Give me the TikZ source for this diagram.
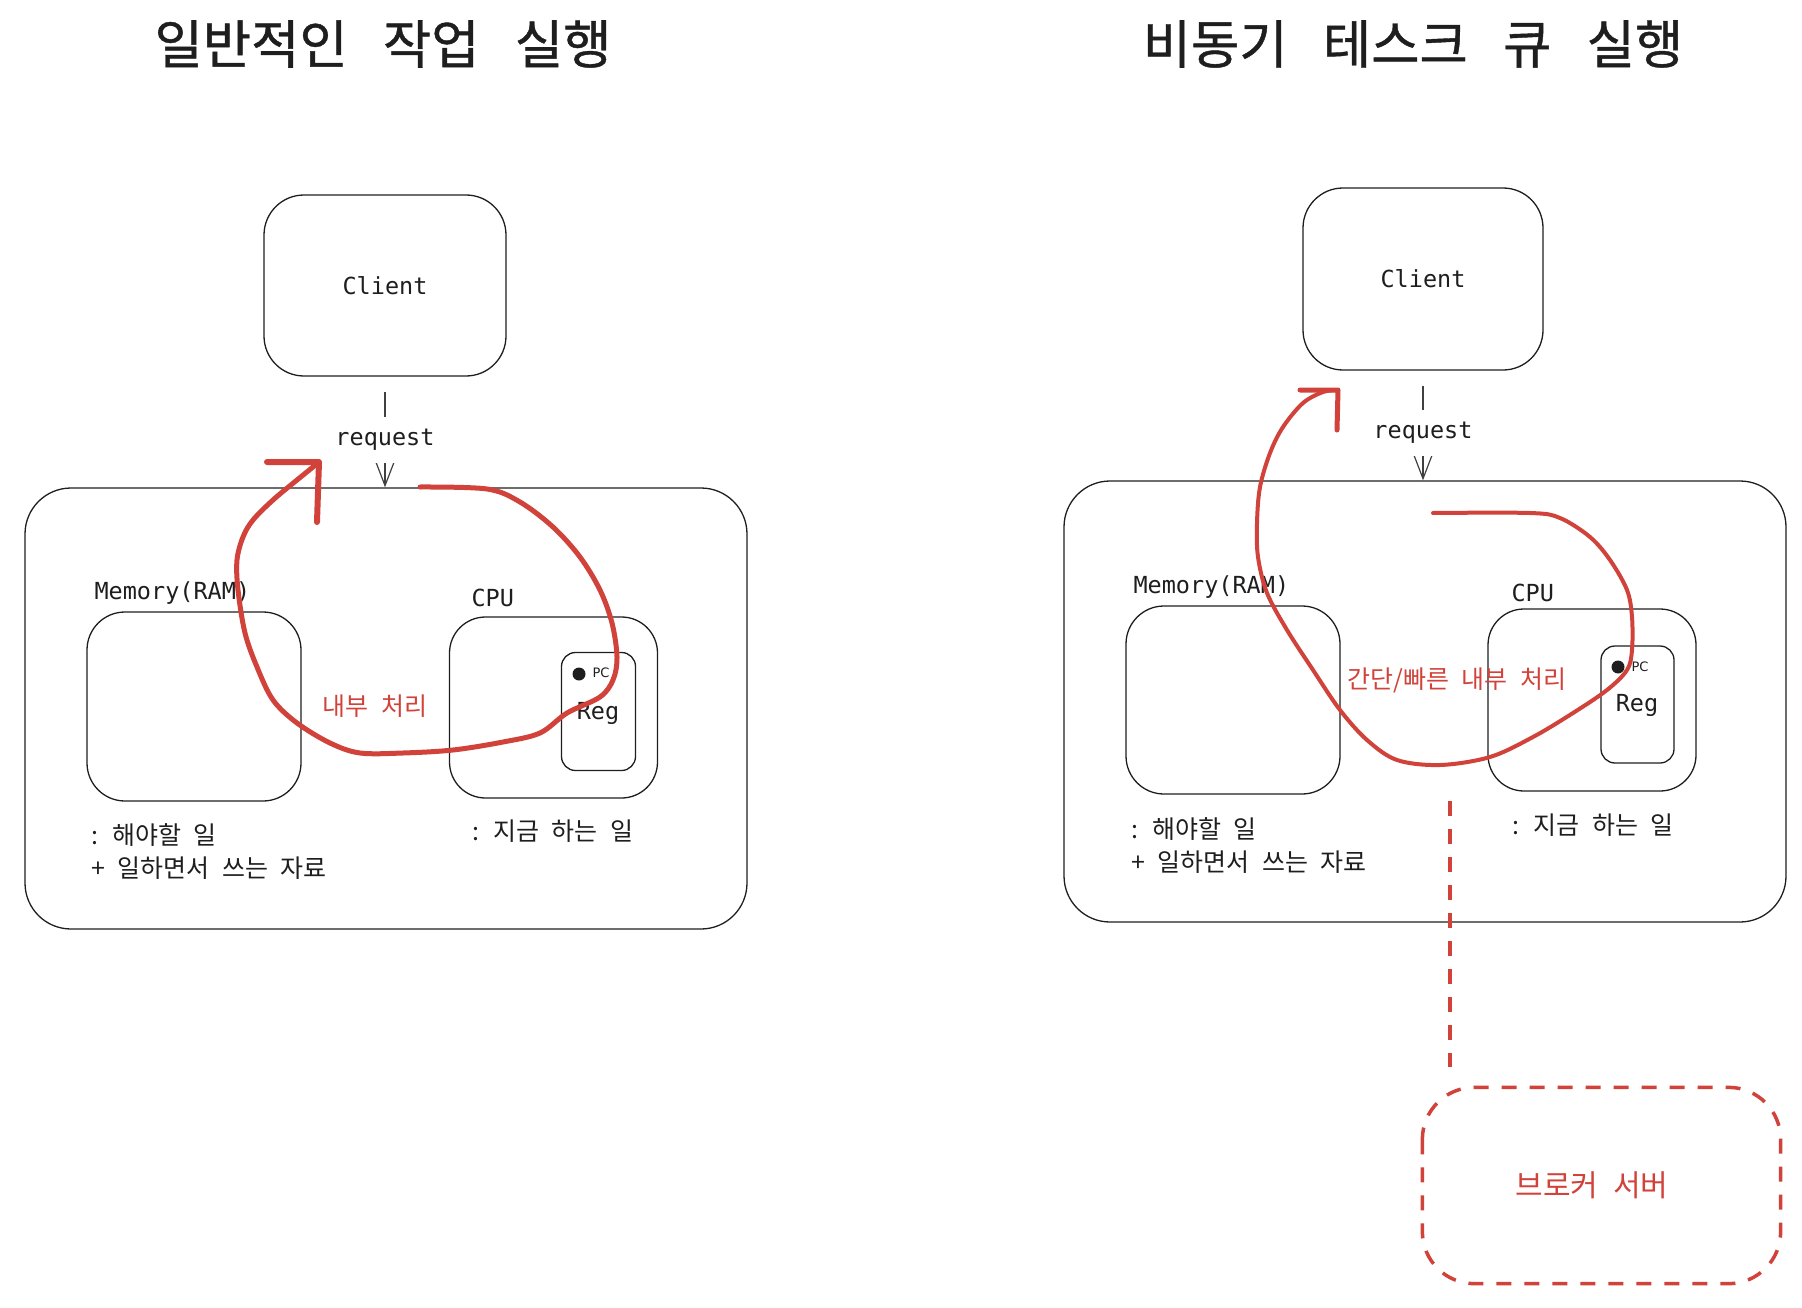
\documentclass[tikz,border=0pt]{standalone}
\usepackage{fontspec}
\setmainfont{Noto Sans CJK KR}[WordSpace=2.2]
\newfontfamily\titlefont{Noto Sans CJK KR}[WordSpace=3,FakeBold=0.8]
\newfontfamily\handfont{DejaVu Sans Mono}
\newfontfamily\pcfont{DejaVu Sans}
\usetikzlibrary{arrows.meta}
\definecolor{redink}{RGB}{208,66,58}
\definecolor{ink}{RGB}{30,30,30}

\begin{document}
\begin{tikzpicture}[x=1pt,y=-1pt,
	rbox/.style={draw=ink, line width=1.3pt, rounded corners=#1, inner sep=0pt},
	rbox/.default=40pt,
	hand/.style={font=\handfont\fontsize{23.5}{27}\selectfont, text=ink},
	kr/.style={font=\fontsize{25}{33}\selectfont, text=ink},
	head/.style={font=\titlefont\fontsize{52.5}{62}\selectfont, text=ink},
	req/.style={draw=ink!85, line width=1.2pt, shorten <=15pt,
		-{Straight Barb[length=26pt,width=20pt,line width=1.2pt]}},
	scribble/.style={draw=redink, line width=#1, line cap=round, line join=round},
	reddash/.style={draw=redink, line width=3.5pt, dash pattern=on 15pt off 13pt}]
	\useasboundingbox (0,0) rectangle (1802,1308);

	% 일반적인 작업 실행
	\node[head] (title1) at (383,44) {일반적인 작업 실행};
	\node[rbox, minimum width=242pt, minimum height=181pt, hand] (client1) at (385,285.5) {Client};
	\node[rbox=46pt, minimum width=722pt, minimum height=441pt] (outer1) at (386,708.5) {};
	\node[rbox=38pt, minimum width=214pt, minimum height=189pt] (mem1) at (194,706.5) {};
	\node[rbox=36pt, minimum width=208pt, minimum height=181pt] (cpu1) at (553.5,707.5) {};
	\node[rbox=14pt, minimum width=74pt, minimum height=118pt] (reg1) at (598.5,711.5) {};
	\node[hand, anchor=west] (memlabel1) at (91,593) {Memory(RAM)};
	\node[hand, anchor=west] (cpulabel1) at (468,598) {CPU};
	\node[hand] (reglabel1) at (598,713) {Reg};
	\fill[ink] (579,674) circle (6.5pt);
	\node[font=\pcfont\fontsize{13}{15}\selectfont, text=ink] (pc1) at (601,673) {PC};
	\node[kr, anchor=west, align=left] (memnote1) at (88,851.5) {: 해야할 일\\+ 일하면서 쓰는 자료};
	\node[kr, anchor=west] (cpunote1) at (469,831) {: 지금 하는 일};
	\node[kr, text=redink] (work1) at (375,706) {내부 처리};
	\draw[req] (client1.south) -- (client1.south |- outer1.north)
		node[pos=0.57, fill=white, hand, minimum height=46pt] (reqlabel1) {request};
	\draw[scribble=5pt] plot[smooth, tension=0.55] coordinates {
		(420,487) (487,489) (520,502) (553,527) (580,557) (600,590) (612,623)
		(617,657) (613,680) (600,697) (567,713) (540,733) (503,742) (453,750)
		(403,753) (360,753) (330,743) (297,723) (273,700) (257,667) (245,633)
		(238,590) (237,560) (243,537) (253,520) (273,500) (297,480) (318,463)};
	\draw[scribble=6pt] (267,462) -- (319,462) -- (317,522);

	% 비동기 테스크 큐 실행
	\node[head] (title2) at (1413,44) {비동기 테스크 큐 실행};
	\node[rbox, minimum width=240pt, minimum height=182pt, hand] (client2) at (1423,279) {Client};
	\node[rbox=46pt, minimum width=722pt, minimum height=441pt] (outer2) at (1425,701.5) {};
	\node[rbox=38pt, minimum width=214pt, minimum height=188pt] (mem2) at (1233,700) {};
	\node[rbox=36pt, minimum width=208pt, minimum height=182pt] (cpu2) at (1592,700) {};
	\node[rbox=14pt, minimum width=73pt, minimum height=117pt] (reg2) at (1637.5,704.5) {};
	\node[hand, anchor=west] (memlabel2) at (1130,587) {Memory(RAM)};
	\node[hand, anchor=west] (cpulabel2) at (1508,593) {CPU};
	\node[hand] (reglabel2) at (1637,705) {Reg};
	\fill[ink] (1618,667) circle (6.5pt);
	\node[font=\pcfont\fontsize{13}{15}\selectfont, text=ink] (pc2) at (1640,667) {PC};
	\node[kr, anchor=west, align=left] (memnote2) at (1128,845.5) {: 해야할 일\\+ 일하면서 쓰는 자료};
	\node[kr, anchor=west] (cpunote2) at (1509,825) {: 지금 하는 일};
	\node[kr, text=redink] (work2) at (1457,680) {간단/빠른 내부 처리};
	\draw[req] (client2.south) -- (client2.south |- outer2.north)
		node[pos=0.57, fill=white, hand, minimum height=46pt] (reqlabel2) {request};
	\draw[scribble=4pt] plot[smooth, tension=0.55] coordinates {
		(1433,513) (1530,513) (1560,518) (1590,537) (1610,560) (1627,590) (1632,617)
		(1632,650) (1627,670) (1607,690) (1573,713) (1533,737) (1490,757) (1440,765)
		(1397,760) (1367,740) (1340,710) (1313,670) (1287,630) (1267,593) (1258,557)
		(1257,523) (1260,487) (1270,453) (1283,427) (1303,403) (1323,392) (1337,390)};
	\draw[scribble=5pt] (1300,390) -- (1338,390) -- (1337,430);

	% 브로커 서버
	\node[rbox=52pt, draw=none, minimum width=357pt, minimum height=195pt] (broker) at (1601.5,1185.5) {};
	\draw[reddash, rounded corners=52pt] (broker.north west) rectangle (broker.south east);
	\node[font=\fontsize{30}{36}\selectfont, text=redink] (brokerlabel) at (1592,1185) {브로커 서버};
	\coordinate (qstart) at (1450,801);
	\draw[reddash, shorten >=20pt] (qstart) -- (qstart |- broker.north);
\end{tikzpicture}
\end{document}
